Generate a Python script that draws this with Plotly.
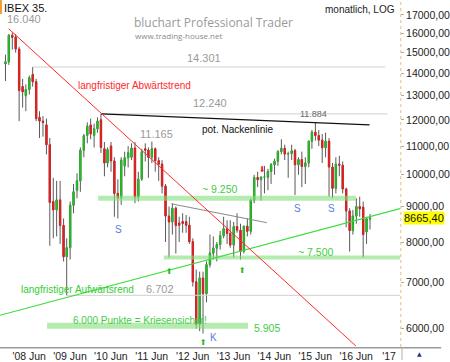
import math
import pandas as pd
import plotly.graph_objects as go

# ---------------- data ----------------
months = pd.date_range("2007-09-01", "2016-08-01", freq="MS")

opens = [14450, 14550, 15890, 15800,
         15180, 13400, 13000, 13270, 13950, 13620, 12100, 11950, 11800, 11050, 9150, 8900,
         9200, 8450, 7620, 7850, 9040, 9500, 9800, 10850, 11400, 11800, 11400, 11650,
         12000, 10900, 10400, 11000, 10470, 9400, 9260, 10300, 10580, 10600, 10930, 9290,
         9860, 10900, 10850, 10600, 10900, 10480, 10360, 9630, 8720, 8550, 8950, 8520,
         8560, 8560, 8460, 8010, 7010, 6090, 7100, 6740, 7420, 7710, 7840, 7930,
         8170, 8360, 8230, 7920, 8420, 8320, 7760, 8430, 8290, 9190, 9910, 9840,
         9920, 9920, 10110, 10340, 10460, 10800, 10920, 10710, 10730, 10830, 10340, 10520,
         10280, 10400, 11180, 11520, 11390, 11220, 10940, 11180, 10260, 9560, 10360, 10320,
         9540, 8870, 8310, 8720, 9000, 8980, 8270, 8630]
highs = [14900, 15950, 16040, 15950,
         15300, 13750, 13500, 13900, 14301, 13750, 12350, 12150, 12050, 11300, 9900, 9800,
         9800, 8650, 8100, 9150, 9700, 10050, 10950, 11450, 11900, 12050, 11850, 12100,
         12240, 11150, 10950, 11150, 10600, 9850, 10600, 10800, 11000, 11100, 11150, 10100,
         10900, 11100, 10950, 11165, 10950, 10600, 10500, 9700, 9000, 9100, 9000, 8700,
         8800, 8750, 8700, 8100, 7300, 7250, 7250, 7500, 8200, 8150, 8000, 8300,
         8700, 8600, 8600, 8550, 8800, 8500, 8450, 8650, 9250, 10000, 10100, 9950,
         10300, 10200, 10400, 10550, 10850, 11250, 11050, 10800, 11050, 10900, 10600, 10800,
         10600, 11200, 11600, 11884, 11600, 11450, 11500, 11300, 10400, 10600, 10650, 10450,
         9580, 8950, 8900, 9250, 9300, 9150, 8700, 8780]
lows = [13650, 14400, 15150, 15000,
        11950, 12500, 12350, 13050, 13400, 11950, 11300, 11350, 10700, 7900, 8100, 8150,
        7950, 7500, 6702, 7550, 8800, 9250, 9450, 10600, 11100, 11250, 10950, 11500,
        10750, 9950, 10250, 10100, 8700, 8650, 9050, 9950, 10250, 10500, 9100, 9150,
        9800, 10450, 9900, 10400, 10100, 9800, 9400, 8000, 7600, 8200, 7700, 8000,
        8250, 8250, 7950, 6900, 6000, 5950, 5905, 6550, 7350, 7550, 7500, 7800,
        8100, 7950, 7850, 7600, 8250, 7550, 7700, 8150, 8200, 9100, 9600, 9180,
        9400, 9500, 9700, 10000, 10300, 10700, 10500, 9900, 10500, 9350, 10000, 9600,
        9700, 10250, 10900, 11200, 11000, 10400, 10600, 9300, 9250, 9400, 9950, 9400,
        8400, 7750, 8200, 8500, 8700, 7600, 7950, 8340]
closes = [14550, 15890, 15780, 15180,
          13230, 13170, 13270, 13800, 13620, 12050, 11950, 11900, 11050, 9120, 8900, 9200,
          8450, 7620, 7850, 9040, 9450, 9800, 10850, 11380, 11750, 11450, 11650, 11950,
          10950, 10400, 10870, 10470, 9400, 9260, 10500, 10580, 10760, 10930, 9290, 9860,
          10800, 10850, 10600, 10900, 10480, 10360, 9630, 8720, 8550, 8950, 8450, 8460,
          8510, 8460, 8010, 7010, 6090, 7100, 6740, 7420, 7710, 7840, 7930, 8170,
          8360, 8230, 7920, 8420, 8320, 7760, 8430, 8290, 9190, 9910, 9840, 9920,
          9920, 10110, 10340, 10460, 10800, 10920, 10710, 10730, 10830, 10340, 10520, 10280,
          10400, 11180, 11520, 11390, 11220, 10940, 11180, 10260, 9560, 10360, 10320, 9540,
          8870, 8310, 8720, 9000, 8930, 8200, 8640, 8665.40]

x_tick_dates = ["2008-06-01", "2009-06-01", "2010-06-01", "2011-06-01", "2012-06-01",
                "2013-06-01", "2014-06-01", "2015-06-01", "2016-06-01", "2017-03-21"]
x_tick_text = ["'08 Jun", "'09 Jun", "'10 Jun", "'11 Jun", "'12 Jun",
               "'13 Jun", "'14 Jun", "'15 Jun", "'16 Jun", "'17"]
y_tick_vals = [6000, 7000, 8000, 9000, 10000, 11000, 12000, 13000, 14000, 15000, 16000, 17000]
y_tick_text = [f"{v},00" for v in y_tick_vals]

downtrend_x = ["2007-10-01", "2016-03-28"]
downtrend_y = [16230, 5665]
uptrend_x = ["2007-07-14", "2017-04-26"]
uptrend_y = [6273, 8940]
neckline_x = ["2010-01-01", "2016-07-28"]
neckline_y = [12240, 11800]
triangle_x = ["2011-09-25", "2014-01-22"]
triangle_y = [9080, 8530]

level_lines = [  # (start, end, price)
    ("2008-05-01", "2016-12-16", 14301),
    ("2010-01-01", "2017-01-04", 12240),
    ("2009-03-01", "2017-04-30", 6702),
]
zone_bands = [  # (start, end, price, thickness)
    ("2009-12-07", "2016-03-27", 9250, 5),
    ("2011-07-16", "2017-04-30", 7600, 4),
    ("2008-09-07", "2013-08-07", 6060, 6),
]

X_RANGE = ["2007-07-14", "2017-04-26"]
Y_RANGE = [math.log10(5646), math.log10(17863)]

# ---------------- figure ----------------
GREEN = "#20c020"
RED = "#ee1a1a"
PLOT_W, PLOT_H = 408, 349

fig = go.Figure()

# wicks
fig.add_trace(go.Candlestick(
    x=months, open=opens, high=highs, low=lows, close=closes,
    increasing=dict(line=dict(color="#5a5a5a", width=1), fillcolor=GREEN),
    decreasing=dict(line=dict(color="#5a5a5a", width=1), fillcolor=RED),
    showlegend=False, hoverinfo="skip"))
# bodies
body_hi = [max(o, c) for o, c in zip(opens, closes)]
body_lo = [min(o, c) for o, c in zip(opens, closes)]
fig.add_trace(go.Candlestick(
    x=months, open=opens, high=body_hi, low=body_lo, close=closes,
    increasing=dict(line=dict(color=GREEN, width=0.6), fillcolor=GREEN),
    decreasing=dict(line=dict(color=RED, width=0.6), fillcolor=RED),
    showlegend=False, hoverinfo="skip"))

# support / resistance bands
for x0, x1, p, th in zone_bands:
    fig.add_trace(go.Scatter(x=[x0, x1], y=[p, p], mode="lines",
                             line=dict(color="rgba(130,222,120,0.6)", width=th),
                             showlegend=False, hoverinfo="skip"))
# level lines
for x0, x1, p in level_lines:
    fig.add_trace(go.Scatter(x=[x0, x1], y=[p, p], mode="lines",
                             line=dict(color="#d0d0d0", width=1),
                             showlegend=False, hoverinfo="skip"))

fig.add_trace(go.Scatter(x=triangle_x, y=triangle_y, mode="lines",
                         line=dict(color="#8a8a8a", width=1), showlegend=False, hoverinfo="skip"))
fig.add_trace(go.Scatter(x=neckline_x, y=neckline_y, mode="lines",
                         line=dict(color="#111111", width=1.3), showlegend=False, hoverinfo="skip"))
fig.add_trace(go.Scatter(x=uptrend_x, y=uptrend_y, mode="lines",
                         line=dict(color="#3ddc3d", width=1.2), showlegend=False, hoverinfo="skip"))
fig.add_trace(go.Scatter(x=downtrend_x, y=downtrend_y, mode="lines",
                         line=dict(color="#ff2a2a", width=1), showlegend=False, hoverinfo="skip"))


def ann(text, xp, yp, color="#222", size=10, xanchor="left", family="Liberation Sans", **kw):
    fig.add_annotation(text=text, xref="paper", yref="paper",
                       x=xp / PLOT_W, y=1 - yp / PLOT_H, xanchor=xanchor, yanchor="middle",
                       showarrow=False, font=dict(color=color, size=size, family=family),
                       borderpad=0, **kw)


def fmt(v):
    return f"{v:,}".replace(",", ".")


ann("IBEX 35.", 3, 8, "#111", 11)
ann("monatlich, LOG", 404, 10, "#222", 10, xanchor="right")
ann("bluchart Professional Trader", 136, 23, "#9a9a9a", 12, family="Open Sans")
ann("www.trading-house.net", 137, 36, "#8a8a8a", 8, family="Open Sans")
ann(fmt(max(highs)), 24, 19, "#9a9a9a", 11, xanchor="center")
ann(fmt(level_lines[0][2]), 208, 58, "#9a9a9a", 11, xanchor="center")
ann(fmt(level_lines[1][2]), 214, 104, "#9a9a9a", 11, xanchor="center")
ann("11.884", 320, 115, "#666", 9, xanchor="center")
ann("11.165", 160, 135, "#9a9a9a", 11, xanchor="center")
ann("pot. Nackenlinie", 205, 130, "#111", 10)
ann("langfristiger Abwärtstrend", 79, 86, "#ff2a2a", 10)
ann("~ 9.250", 205, 190, "#44cc44", 10.5)
ann("~ 7.500", 303, 253, "#44cc44", 10.5)
ann("langfristiger Aufwärtsrend", 20, 291, "#33cc33", 10)
ann(fmt(level_lines[2][2]), 163, 291, "#9a9a9a", 11, xanchor="center")
ann("6.000 Punkte = Kriesensicher!", 73, 322, "#44cc44", 10)
ann(fmt(min(lows)), 258, 330, "#44cc44", 10.5)
for sx, sy in [(121, 231), (303, 210), (338, 210)]:
    ann("S", sx, sy, "#5a7de0", 10, xanchor="center")
ann("K", 218, 339, "#5a7de0", 10, xanchor="center")
for ax_, ay_ in [(173, 273), (208, 344), (247, 272)]:
    ann("⬆", ax_, ay_, "#22bb22", 8, xanchor="center", family="DejaVu Sans")
ann("⬇", 268, 170, "#ee2222", 8, xanchor="center", family="DejaVu Sans")

# last price tag
fig.add_annotation(text=f"{closes[-1]:.2f}".replace(".", ","), xref="paper", yref="y",
                   x=411 / PLOT_W, y=math.log10(closes[-1]), xanchor="left", yanchor="middle",
                   showarrow=False, bgcolor="#ffff00", borderpad=0,
                   font=dict(color="#111", size=11, family="Liberation Sans"))
ann("▲", 428, 356, "#223388", 6, xanchor="center", family="DejaVu Sans")

shapes = [
    dict(type="line", xref="paper", yref="paper", x0=1.002, x1=1.002, y0=0, y1=1,
         line=dict(color="#e3c07a", width=1, dash="dot")),
    dict(type="line", xref="paper", yref="paper", x0=0, x1=450 / PLOT_W, y0=-0.002, y1=-0.002,
         line=dict(color="#9a9a9a", width=1.5)),
    dict(type="line", xref="paper", yref="paper", x0=410 / PLOT_W, x1=410 / PLOT_W,
         y0=-13 / PLOT_H, y1=0, line=dict(color="#b0b0b0", width=1)),
    dict(type="rect", xref="paper", yref="paper", x0=0, x1=2 / PLOT_W, y0=1 - 14 / PLOT_H, y1=1,
         line=dict(width=0), fillcolor="#f0a030"),
]

fig.update_layout(
    width=450, height=362,
    margin=dict(l=0, r=42, t=0, b=13),
    paper_bgcolor="white", plot_bgcolor="white",
    showlegend=False, boxgap=0.38,
    shapes=shapes,
    font=dict(family="Liberation Sans", size=10, color="#222"),
    xaxis=dict(type="date", range=X_RANGE, showgrid=False, zeroline=False, showline=False,
               rangeslider=dict(visible=False), tickvals=x_tick_dates, ticktext=x_tick_text,
               ticks="", ticklabelshift=-7, ticklabelstandoff=1,
               tickfont=dict(size=10.5, color="#222")),
    yaxis=dict(type="log", range=Y_RANGE, side="right", showgrid=False, zeroline=False,
               showline=False, tickvals=y_tick_vals, ticktext=y_tick_text,
               ticks="outside", ticklen=3, tickcolor="#aaaaaa",
               tickfont=dict(size=10.5, color="#222")),
)

fig.write_html("out.html")
